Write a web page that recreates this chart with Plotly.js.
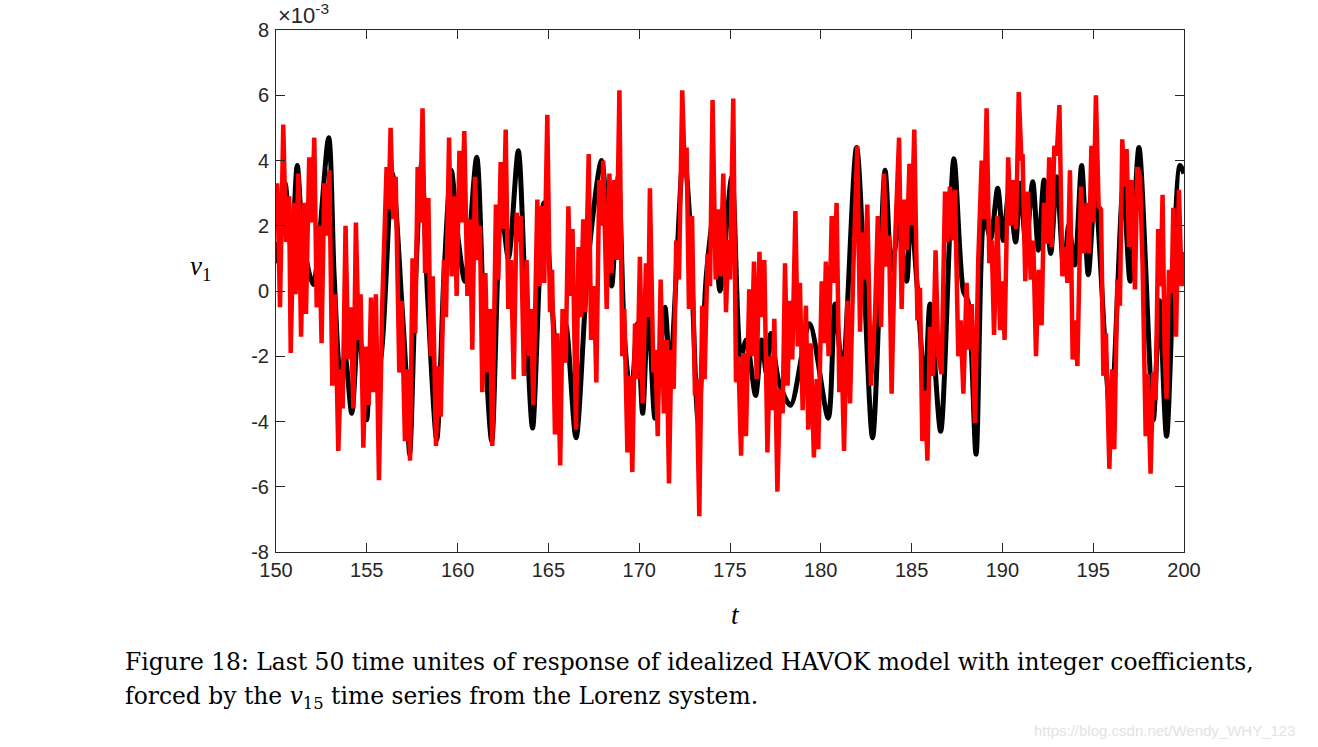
<!DOCTYPE html>
<html>
<head>
<meta charset="utf-8">
<script src="https://cdn.plot.ly/plotly-3.0.1.min.js"></script>
<style>html,body{margin:0;padding:0;background:#fff;}#chart{width:1318px;height:747px;}</style>
</head>
<body>
<div id="chart"></div>
<script>
// time (t) and v1 (x 10^-3)
const blackT = [150.00,150.12,150.50,150.85,151.17,151.50,152.05,152.90,153.20,153.55,153.80,154.17,154.55,154.99,155.30,155.70,156.40,156.92,157.15,157.36,157.70,158.02,158.35,158.85,159.25,159.65,160.05,160.40,161.05,161.45,161.88,162.40,162.80,163.34,163.75,164.13,164.75,165.55,165.95,166.52,167.20,167.93,168.48,168.85,169.20,169.55,169.90,170.19,170.50,170.87,171.42,171.70,172.45,172.75,173.25,173.70,174.10,174.45,175.10,175.60,175.90,176.41,176.74,177.00,177.25,177.70,178.34,179.37,180.41,180.78,181.20,181.97,182.85,183.54,183.90,184.30,184.73,184.95,185.30,185.74,186.01,186.60,187.33,187.85,188.10,188.55,189.00,189.35,189.74,190.05,190.35,190.73,190.97,191.30,191.67,191.98,192.29,192.66,192.99,193.39,193.65,193.99,194.36,194.73,195.10,195.96,196.65,197.03,197.52,198.31,198.65,199.04,199.78,200.00];
const blackV = [1.5,0.9,3.3,1.2,3.85,1.5,0.2,4.7,0.5,-2.6,-2.0,-3.75,-1.0,-3.95,-1.5,-2.2,3.6,-0.3,-2.4,-5.0,0.5,3.9,-0.2,-4.55,0.5,3.7,1.5,0.3,4.1,-1.0,-4.6,2.5,1.0,4.3,-0.5,-4.2,2.7,-2.5,-1.0,-4.5,1.0,4.0,0.15,3.5,-1.5,-3.3,-1.0,-3.75,-0.5,-3.9,-0.5,-2.5,4.3,2.5,-4.0,0.5,2.3,0.0,3.5,-2.0,-1.5,-3.2,-1.5,-2.5,-1.3,-2.8,-3.5,-1.0,-3.9,-0.4,-2.5,4.4,-4.5,3.7,0.65,2.0,0.3,2.5,0.2,-3.0,-0.4,-4.3,4.05,0.0,-0.3,-5.0,2.3,1.6,3.15,1.55,3.0,1.5,3.3,1.4,3.35,1.25,3.4,1.15,3.5,0.55,2.0,0.8,3.85,0.5,3.0,-3.85,3.2,0.3,4.4,-3.95,-0.3,-4.45,3.85,3.6];

const redT = [150.00,150.07,150.22,150.40,150.55,150.72,150.81,150.99,151.08,151.23,151.38,151.54,151.65,151.83,151.96,152.11,152.24,152.37,152.51,152.66,152.79,152.94,153.10,153.25,153.43,153.58,153.67,153.83,153.98,154.11,154.26,154.40,154.55,154.66,154.81,154.95,155.10,155.23,155.36,155.50,155.67,155.85,156.09,156.20,156.31,156.46,156.59,156.79,156.92,157.10,157.23,157.38,157.52,157.67,157.80,157.93,158.07,158.21,158.39,158.52,158.63,158.81,158.94,159.07,159.25,159.36,159.53,159.67,159.82,159.95,160.10,160.22,160.37,160.54,160.68,160.81,160.96,161.09,161.23,161.36,161.53,161.65,161.78,161.91,162.11,162.24,162.37,162.52,162.65,162.79,162.94,163.09,163.25,163.36,163.47,163.65,163.80,163.95,164.04,164.17,164.39,164.50,164.65,164.77,164.94,165.09,165.20,165.36,165.49,165.65,165.78,165.95,166.10,166.22,166.33,166.52,166.66,166.78,166.92,167.02,167.22,167.35,167.51,167.64,167.80,167.93,168.02,168.21,168.36,168.48,168.63,168.76,168.91,169.07,169.18,169.35,169.49,169.62,169.77,169.90,170.04,170.19,170.37,170.50,170.59,170.78,170.89,171.02,171.18,171.36,171.51,171.64,171.77,171.90,172.04,172.19,172.37,172.52,172.61,172.74,172.91,173.07,173.16,173.31,173.47,173.60,173.77,173.90,174.04,174.21,174.36,174.48,174.63,174.78,174.91,175.00,175.18,175.33,175.46,175.61,175.73,175.88,176.06,176.19,176.32,176.47,176.62,176.74,176.89,177.06,177.20,177.33,177.44,177.61,177.75,177.90,178.03,178.17,178.30,178.43,178.60,178.73,178.85,179.00,179.18,179.31,179.44,179.62,179.77,179.86,180.05,180.17,180.28,180.43,180.60,180.73,180.87,181.02,181.15,181.28,181.46,181.61,181.79,182.01,182.16,182.30,182.43,182.56,182.76,182.99,183.14,183.32,183.48,183.63,183.76,183.90,184.09,184.31,184.45,184.60,184.73,184.88,185.00,185.15,185.32,185.46,185.59,185.74,185.87,186.01,186.16,186.32,186.47,186.65,186.84,186.97,187.11,187.26,187.39,187.57,187.70,187.85,188.03,188.16,188.31,188.49,188.67,188.86,188.99,189.13,189.28,189.41,189.54,189.72,189.87,190.01,190.12,190.32,190.47,190.60,190.75,190.90,191.05,191.11,191.26,191.41,191.56,191.70,191.85,192.00,192.16,192.29,192.44,192.58,192.71,192.86,192.99,193.14,193.30,193.45,193.58,193.72,193.87,193.99,194.13,194.33,194.49,194.64,194.77,194.90,195.01,195.15,195.30,195.43,195.56,195.70,195.89,196.05,196.16,196.33,196.47,196.60,196.71,196.84,196.97,197.12,197.30,197.43,197.58,197.72,197.89,198.00,198.16,198.31,198.44,198.58,198.71,198.82,198.93,199.04,199.17,199.32,199.41,199.56,199.72,199.87,200.00];
const redV = [2.2,3.3,-0.5,5.1,1.5,2.9,-1.9,2.7,-0.1,3.6,-1.4,2.7,-0.7,4.1,2.1,4.7,-0.5,2.0,-1.6,3.3,1.7,3.7,-2.9,-0.1,-4.9,-2.4,-3.6,2.0,-2.1,-0.5,-3.6,2.1,-1.5,-0.1,-4.8,-1.7,-3.5,-0.2,-3.1,-0.1,-5.8,-0.4,3.8,2.5,5.0,2.2,3.5,-2.5,-0.3,-4.6,-2.4,-5.2,1.0,-1.3,3.8,2.1,5.6,0.55,2.85,-2.0,0.45,-4.75,-2.3,-3.85,0.95,-0.8,4.7,0.45,2.9,-0.15,4.3,2.1,4.9,-0.15,2.2,-1.8,3.5,0.95,2.0,-3.1,0.55,-2.5,-0.55,-4.75,2.65,0.35,3.95,1.9,4.95,-0.55,0.95,-2.7,2.4,1.5,2.3,-2.6,0.95,-2.0,-0.55,-3.5,2.8,0.15,2.6,0.25,5.4,-0.65,0.65,-4.4,-1.3,-5.35,-0.55,-2.2,2.6,-0.15,1.9,-4.25,1.35,-0.8,2.2,-0.65,4.2,-1.5,0.15,-2.8,3.4,2.0,4.0,-0.55,3.6,0.55,3.4,0.95,6.15,-2.0,-0.55,-4.95,-2.6,-5.55,-1.0,-2.7,1.05,-3.45,0.85,-0.8,3.15,-2.5,-1.8,-4.45,0.35,-3.75,-1.5,-5.9,-1.8,-3.0,1.55,0.35,6.15,3.5,4.4,-0.55,2.3,-3.2,-2.7,-6.9,-0.45,-2.7,1.15,0.15,5.85,0.35,2.5,0.45,3.6,-0.65,1.55,0.35,5.9,-2.8,-2.0,-5.05,-1.9,-4.45,0.05,-2.0,0.9,-2.7,1.2,-0.8,0.95,-4.95,-2.0,-3.65,-0.85,-6.15,-3.0,-3.75,0.85,-2.9,-0.3,-2.1,2.45,-1.7,0.25,-3.65,-0.45,-4.25,-1.6,-5.1,-2.7,-4.85,0.3,-1.6,0.9,-2.0,2.3,0.25,2.7,-3.1,-2.0,-4.9,-0.3,-3.45,0.65,4.45,-1.25,1.8,0.35,2.65,-2.9,-0.65,2.3,-1.1,3.6,0.75,1.7,-3.15,1.55,4.7,-0.55,2.8,1.25,3.9,2.0,4.95,-0.9,0.1,-4.6,-3.05,-5.2,-1.1,-2.6,1.25,-2.0,-2.55,3.05,1.5,3.2,1.55,3.1,-2.0,-0.9,-3.15,0.25,-1.8,-0.4,-4.05,0.95,4.0,2.2,5.6,0.85,1.55,-1.35,2.3,-1.2,0.3,-1.5,4.1,2.0,3.4,1.9,6.1,4.0,4.2,0.3,3.05,0.35,1.55,-2.0,0.65,-1.05,2.7,1.45,4.1,1.35,4.45,4.15,5.7,0.45,1.35,0.25,3.7,-2.1,-0.9,-2.3,3.2,1.15,2.7,1.15,4.45,2.1,6.0,2.6,2.5,-2.6,-1.3,-5.45,-2.4,-4.85,0.35,-0.45,4.65,3.2,4.35,1.35,3.4,0.05,3.8,3.5,0.75,-4.45,-2.55,-5.6,-2.5,-3.35,1.9,0.15,2.95,-1.8,-3.3,0.65,-0.05,2.55,-1.4,3.1,0.15,1.2];

const xTicks = [150,155,160,165,170,175,180,185,190,195,200];
const yTicks = [-8,-6,-4,-2,0,2,4,6,8];
const yTickText = ["-8","-6","-4","-2","0","2","4","6","8"];

const traces = [
  {x: blackT, y: blackV, type: 'scatter', mode: 'lines',
   line: {color: '#000000', width: 5, shape: 'spline', smoothing: 0.8}, hoverinfo: 'skip'},
  {x: redT, y: redV, type: 'scatter', mode: 'lines',
   line: {color: '#ff0000', width: 4.5}, hoverinfo: 'skip'}
];

const axisCommon = {
  showgrid: false, zeroline: false, showline: true, linecolor: '#262626', linewidth: 1,
  mirror: 'ticks', ticks: 'inside', ticklen: 9, tickcolor: '#262626', tickwidth: 1,
  tickfont: {family: 'Liberation Sans, Arial, sans-serif', size: 20, color: '#262626'}
};

const layout = {
  width: 1318, height: 747,
  margin: {l: 276, r: 134, t: 30, b: 195},
  paper_bgcolor: '#ffffff', plot_bgcolor: '#ffffff',
  showlegend: false,
  xaxis: Object.assign({}, axisCommon, {range: [150, 200], tickmode: 'array', tickvals: xTicks, ticktext: xTicks.map(String)}),
  yaxis: Object.assign({}, axisCommon, {range: [-8, 8], tickmode: 'array', tickvals: yTicks, ticktext: yTickText, ticklabelstandoff: 2}),
  annotations: [
    {xref: 'paper', yref: 'paper', x: 0.0, y: 1.0, xanchor: 'left', yanchor: 'bottom', showarrow: false,
     text: '×10<sup>-3</sup>', font: {family: 'Liberation Sans, Arial, sans-serif', size: 22, color: '#262626'}},
    {xref: 'paper', yref: 'paper', x: -0.0837, y: 0.544, xanchor: 'center', yanchor: 'middle', showarrow: false,
     text: '<i>v</i><sub>1</sub>', font: {family: 'Liberation Serif, serif', size: 27, color: '#000000'}},
    {xref: 'paper', yref: 'paper', x: 0.5066, y: -0.1207, xanchor: 'center', yanchor: 'middle', showarrow: false,
     text: '<i>t</i>', font: {family: 'Liberation Serif, serif', size: 27, color: '#000000'}},
    {xref: 'paper', yref: 'paper', x: -0.1685, y: -0.2107, xanchor: 'left', yanchor: 'middle', showarrow: false, align: 'left',
     text: 'Figure 18: Last 50 time unites of response of idealized HAVOK model with integer coefficients,',
     font: {family: 'DejaVu Serif, serif', size: 23.4, color: '#000000'}},
    {xref: 'paper', yref: 'paper', x: -0.1685, y: -0.2778, xanchor: 'left', yanchor: 'middle', showarrow: false, align: 'left',
     text: 'forced by the <i>v</i><sub>15</sub> time series from the Lorenz system.',
     font: {family: 'DejaVu Serif, serif', size: 23.4, color: '#000000'}},
    {xref: 'paper', yref: 'paper', x: 0.8326, y: -0.341, xanchor: 'left', yanchor: 'middle', showarrow: false,
     text: 'https://blog.csdn.net/Wendy_WHY_123',
     font: {family: 'Liberation Sans, Arial, sans-serif', size: 15, color: '#e3e3e3'}}
  ]
};

Plotly.newPlot('chart', traces, layout, {displayModeBar: false, staticPlot: true});
</script>
</body>
</html>
